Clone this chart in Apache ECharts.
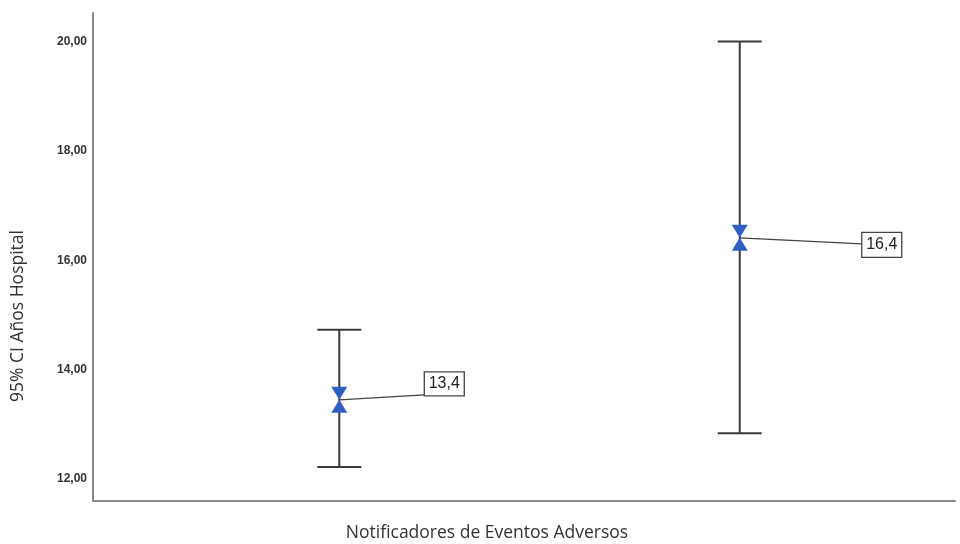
<!DOCTYPE html>
<html><head><meta charset="utf-8">
<script src="https://cdn.jsdelivr.net/npm/echarts@6/dist/echarts.min.js"></script>
<style>html,body{margin:0;padding:0;background:#fff}#c{width:960px;height:544px}</style>
</head><body><div id="c"></div>
<script>
var categories = ['Grupo 1', 'Grupo 2'];
var categoryPos = [1, 2];
var means = [13.45, 16.41];
var lower = [12.22, 12.84];
var upper = [14.73, 20.0];
var meanLabels = ['13,4', '16,4'];
var yTicks = [12, 14, 16, 18, 20];
var xTitle = 'Notificadores de Eventos Adversos';
var yTitle = '95% CI Años Hospital';

var chart = echarts.init(document.getElementById('c'));
var errData = categoryPos.map(function (x, i) { return [x, lower[i], upper[i], means[i]]; });
var labelOffsets = [[85, -5, 40, 24], [122, 6, 40, 25]]; // dx to box left, dy of line end, box w, box h
var labelBoxDy = [-16, 7];

chart.setOption({
  animation: false,
  grid: { left: 93, right: 5, top: 13, bottom: 43 },
  graphic: [
    { type: 'text', x: 487, y: 533, style: { text: xTitle, fontFamily: 'Open Sans', fontSize: 17.5, fill: '#333', align: 'center', verticalAlign: 'middle' } },
    { type: 'text', x: 18, y: 316, rotation: Math.PI / 2, style: { text: yTitle, fontFamily: 'Open Sans', fontSize: 17.5, fill: '#333', align: 'center', verticalAlign: 'middle' } }
  ],
  xAxis: {
    type: 'value', min: 0.385, max: 2.5375,
    axisLine: { show: true, lineStyle: { color: '#8a8a8a', width: 2 } },
    axisTick: { show: false }, axisLabel: { show: false }, splitLine: { show: false }
  },
  yAxis: {
    type: 'value', min: 11.60, max: 20.52,
    axisLine: { show: true, lineStyle: { color: '#8a8a8a', width: 2 } },
    axisTick: { show: false },
    splitLine: { show: false },
    axisLabel: {
      customValues: yTicks, margin: 6,
      fontFamily: 'Liberation Sans', fontSize: 12, fontWeight: 'bold', color: '#333',
      formatter: function (v) { return v.toFixed(2).replace('.', ','); }
    }
  },
  series: [{
    type: 'custom',
    data: errData,
    renderItem: function (params, api) {
      var i = params.dataIndex;
      var x = api.value(0);
      var lo = api.coord([x, api.value(1)]);
      var hi = api.coord([x, api.value(2)]);
      var m = api.coord([x, api.value(3)]);
      var cap = 22;
      var st = { stroke: '#3a3a3a', lineWidth: 2 };
      var off = labelOffsets[i];
      var bx = m[0] + off[0];
      var by = m[1] + labelBoxDy[i];
      var tri = 13, hw = 8;
      return {
        type: 'group',
        children: [
          { type: 'line', shape: { x1: lo[0], y1: lo[1], x2: hi[0], y2: hi[1] }, style: st },
          { type: 'line', shape: { x1: lo[0] - cap, y1: lo[1], x2: lo[0] + cap, y2: lo[1] }, style: st },
          { type: 'line', shape: { x1: hi[0] - cap, y1: hi[1], x2: hi[0] + cap, y2: hi[1] }, style: st },
          { type: 'line', shape: { x1: m[0], y1: m[1], x2: bx, y2: m[1] + off[1] }, style: { stroke: '#444', lineWidth: 1.3 } },
          { type: 'polygon', shape: { points: [[m[0] - hw, m[1] - tri], [m[0] + hw, m[1] - tri], [m[0], m[1]]] }, style: { fill: '#2f5fc4' } },
          { type: 'polygon', shape: { points: [[m[0] - hw, m[1] + tri], [m[0] + hw, m[1] + tri], [m[0], m[1]]] }, style: { fill: '#2f5fc4' } },
          { type: 'rect', shape: { x: bx, y: by - off[3] / 2, width: off[2], height: off[3] }, style: { fill: '#fff', stroke: '#444', lineWidth: 1.3 } },
          { type: 'text', x: bx + off[2] / 2, y: by, style: { text: meanLabels[i], fontFamily: 'Liberation Sans', fontSize: 16, fill: '#222', align: 'center', verticalAlign: 'middle' } }
        ]
      };
    }
  }]
});
</script>
</body></html>
